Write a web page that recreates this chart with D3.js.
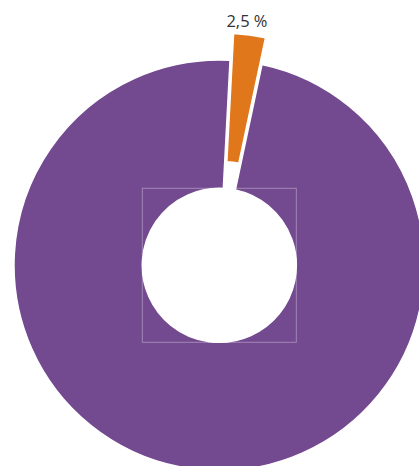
<!DOCTYPE html>
<html>
<head>
<meta charset="utf-8">
<script src="https://cdn.jsdelivr.net/npm/d3@7"></script>
<style>
  html, body { margin: 0; padding: 0; background: #fff; }
  svg { display: block; }
</style>
</head>
<body>
<svg id="chart" width="419" height="466"></svg>
<script>
const categories = ["Orange", "Purple"];
const values = [2.5, 97.5];
const labels = ["2,5 %", ""];
const colors = ["#e0781b", "#734990"];

const svg = d3.select("#chart");
const cx = 219.3, cy = 265.3;
const outerR = 205.3, innerR = 77;
const explode = 27;
const startDeg = 3.0;

const pie = d3.pie().sort(null).value(d => d)
  .startAngle(startDeg * Math.PI / 180)
  .endAngle((startDeg + 360) * Math.PI / 180);
const arcs = pie(values);
const arc = d3.arc().innerRadius(innerR).outerRadius(outerR);

const g = svg.append("g").attr("transform", `translate(${cx},${cy})`);

g.selectAll("path.slice").data(arcs).enter().append("path")
  .attr("class", "slice")
  .attr("d", arc)
  .attr("fill", (d, i) => colors[i])
  .attr("stroke", "#fff")
  .attr("stroke-width", 1.5)
  .attr("stroke-linejoin", "round")
  .attr("transform", (d, i) => {
    if (i !== 0) return null;
    const m = (d.startAngle + d.endAngle) / 2;
    return `translate(${explode * Math.sin(m)},${-explode * Math.cos(m)})`;
  });

// inner bounding square
g.append("rect")
  .attr("x", -innerR).attr("y", -innerR)
  .attr("width", innerR * 2).attr("height", innerR * 2)
  .attr("fill", "none")
  .attr("stroke", "rgba(255,255,255,0.35)")
  .attr("stroke-width", 1);

// labels
g.selectAll("text.lbl").data(arcs.filter((d, i) => labels[i])).enter().append("text")
  .attr("class", "lbl")
  .attr("x", d => { const m = (d.startAngle + d.endAngle) / 2; return 212 * Math.sin(m); })
  .attr("y", d => { const m = (d.startAngle + d.endAngle) / 2; return -240 * Math.cos(m); })
  .attr("text-anchor", "middle")
  .attr("font-family", "'Open Sans', Lato, sans-serif")
  .attr("font-size", 16.5)
  .attr("fill", "#333")
  .text(d => labels[d.index]);
</script>
</body>
</html>
